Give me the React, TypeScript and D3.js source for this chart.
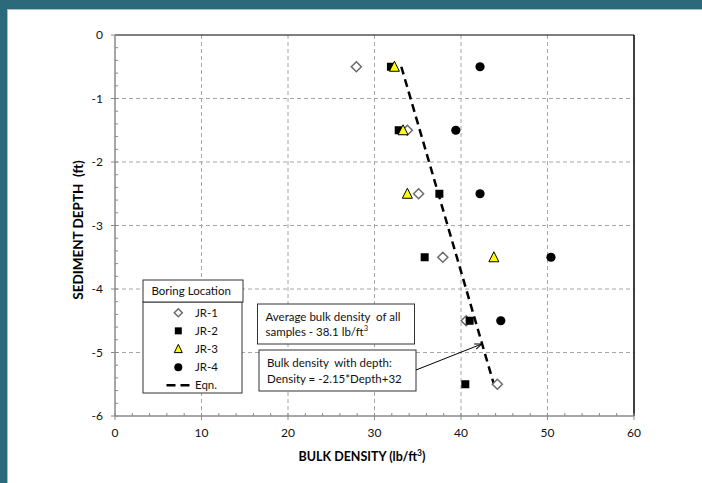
import React from "react";
import * as d3 from "d3";

const depths = [-0.5, -1.5, -2.5, -3.5, -4.5, -5.5];
const jr1 = [27.9, 33.8, 35.1, 37.9, 40.6, 44.2];
const jr2 = [31.9, 32.8, 37.5, 35.8, 41.0, 40.5];
const jr3Depths = [-0.5, -1.5, -2.5, -3.5];
const jr3 = [32.3, 33.3, 33.8, 43.8];
const jr4Depths = [-0.5, -1.5, -2.5, -3.5, -4.5];
const jr4 = [42.2, 39.4, 42.2, 50.4, 44.6];
const eqnDepths = [-0.5, -5.5];
const eqnDensity = [33.1, 43.8];
const xTicks = [0, 10, 20, 30, 40, 50, 60];
const yTicks = [0, -1, -2, -3, -4, -5, -6];
const legendLabels = ["JR-1", "JR-2", "JR-3", "JR-4", "Eqn."];

const W = 702;
const H = 483;
const FONT = "Lato, 'Open Sans', sans-serif";

const x = d3.scaleLinear().domain([0, 60]).range([115, 634]);
const y = d3.scaleLinear().domain([-6, 0]).range([416, 35]);

function Diamond({ cx, cy, r = 5 }: { cx: number; cy: number; r?: number }) {
  return (
    <path
      d={`M${cx},${cy - r}L${cx + r},${cy}L${cx},${cy + r}L${cx - r},${cy}Z`}
      fill="#fff"
      stroke="#6b6b6b"
      strokeWidth={1.5}
    />
  );
}
function Square({ cx, cy, s = 8 }: { cx: number; cy: number; s?: number }) {
  return <rect x={cx - s / 2} y={cy - s / 2} width={s} height={s} fill="#000" />;
}
function Tri({ cx, cy, s = 10 }: { cx: number; cy: number; s?: number }) {
  const h = s * 0.9;
  return (
    <path
      d={`M${cx},${cy - h / 2 - 1}L${cx + s / 2},${cy + h / 2}L${cx - s / 2},${cy + h / 2}Z`}
      fill="#ffff00"
      stroke="#000"
      strokeWidth={1}
      strokeLinejoin="miter"
    />
  );
}
function Dot({ cx, cy, r = 4.6 }: { cx: number; cy: number; r?: number }) {
  return <circle cx={cx} cy={cy} r={r} fill="#000" />;
}

export default function App() {
  const xMinor = d3.range(0, 60.001, 2);
  const yMinor = d3.range(-6, 0.001, 0.2);
  const eqnLine = d3
    .line<number>()
    .x((_, i) => x(eqnDensity[i]))
    .y((d) => y(d));

  return (
    <svg
      width={W}
      height={H}
      style={{ position: "absolute", left: 0, top: 0, fontFamily: FONT }}
    >
      <defs>
        <marker
          id="arrow"
          viewBox="0 0 10 10"
          refX={9}
          refY={5}
          markerWidth={7}
          markerHeight={7}
          orient="auto"
        >
          <path d="M0,1L10,5L0,9" fill="none" stroke="#000" strokeWidth={1.5} />
        </marker>
      </defs>
      <rect x={0} y={0} width={W} height={H} fill="#fff" />
      <rect x={0} y={0} width={W} height={9} fill="#2c6a7b" />
      <rect x={0} y={0} width={7} height={H} fill="#2c6a7b" />
      <line x1={7} x2={W} y1={9.5} y2={9.5} stroke="#b8b8b8" strokeWidth={1} />
      <line x1={7.5} x2={7.5} y1={9} y2={H} stroke="#b8b8b8" strokeWidth={1} />

      {/* gridlines */}
      {xTicks.slice(1, -1).map((t) => (
        <line
          key={"gx" + t}
          x1={x(t)}
          x2={x(t)}
          y1={y(0)}
          y2={y(-6)}
          stroke="#a6a6a6"
          strokeWidth={1}
          strokeDasharray="4,3"
        />
      ))}
      {yTicks.slice(1, -1).map((t) => (
        <line
          key={"gy" + t}
          x1={x(0)}
          x2={x(60)}
          y1={y(t)}
          y2={y(t)}
          stroke="#a6a6a6"
          strokeWidth={1}
          strokeDasharray="4,3"
        />
      ))}

      {/* plot border top/right */}
      <line x1={x(0)} x2={x(60)} y1={y(0)} y2={y(0)} stroke="#000" strokeWidth={1.2} />
      <line x1={x(60)} x2={x(60)} y1={y(0)} y2={y(-6)} stroke="#000" strokeWidth={1.5} />

      {/* axes */}
      <line x1={x(0)} x2={x(0)} y1={y(0)} y2={y(-6)} stroke="#8a8a8a" strokeWidth={1.5} />
      <line x1={x(0)} x2={x(60)} y1={y(-6)} y2={y(-6)} stroke="#8a8a8a" strokeWidth={1.5} />
      {xMinor.map((t) => (
        <line
          key={"xm" + t}
          x1={x(t)}
          x2={x(t)}
          y1={y(-6)}
          y2={y(-6) - 3}
          stroke="#8a8a8a"
          strokeWidth={1}
        />
      ))}
      {yMinor.map((t, i) => (
        <line
          key={"ym" + i}
          x1={x(0)}
          x2={x(0) + 3}
          y1={y(t)}
          y2={y(t)}
          stroke="#8a8a8a"
          strokeWidth={1}
        />
      ))}
      {xTicks.map((t) => (
        <line
          key={"xt" + t}
          x1={x(t)}
          x2={x(t)}
          y1={y(-6)}
          y2={y(-6) + 4}
          stroke="#8a8a8a"
          strokeWidth={1}
        />
      ))}
      {yTicks.map((t) => (
        <line
          key={"yt" + t}
          x1={x(0) - 4}
          x2={x(0)}
          y1={y(t)}
          y2={y(t)}
          stroke="#8a8a8a"
          strokeWidth={1}
        />
      ))}
      {xTicks.map((t) => (
        <text
          key={"xl" + t}
          x={x(t)}
          y={437}
          textAnchor="middle"
          fontSize={12}
          fill="#111"
        >
          {t}
        </text>
      ))}
      {yTicks.map((t) => (
        <text
          key={"yl" + t}
          x={103}
          y={y(t) + 4}
          textAnchor="end"
          fontSize={12}
          fill="#111"
        >
          {t}
        </text>
      ))}

      {/* axis titles */}
      <text
        x={362}
        y={461}
        textAnchor="middle"
        fontSize={12.5}
        fontWeight="bold"
        fill="#000"
      >
        BULK DENSITY (lb/ft
        <tspan fontSize={8.5} dy={-5}>
          3
        </tspan>
        <tspan dy={5}>)</tspan>
      </text>
      <text
        transform={`translate(83,230) rotate(-90)`}
        textAnchor="middle"
        fontSize={13.5}
        fontWeight="bold"
        fill="#000"
        style={{ whiteSpace: "pre" }}
      >
        {"SEDIMENT DEPTH  (ft)"}
      </text>

      {/* equation line */}
      <path
        d={eqnLine(eqnDepths) || ""}
        fill="none"
        stroke="#000"
        strokeWidth={2.5}
        strokeDasharray="8,5"
      />

      {/* data */}
      {jr1.map((v, i) => (
        <Diamond key={"a" + i} cx={x(v)} cy={y(depths[i])} />
      ))}
      {jr2.map((v, i) => (
        <Square key={"b" + i} cx={x(v)} cy={y(depths[i])} />
      ))}
      {jr3.map((v, i) => (
        <Tri key={"c" + i} cx={x(v)} cy={y(jr3Depths[i])} />
      ))}
      {jr4.map((v, i) => (
        <Dot key={"d" + i} cx={x(v)} cy={y(jr4Depths[i])} />
      ))}

      {/* legend */}
      <rect x={143} y={302} width={99} height={91} fill="#fff" stroke="#333" strokeWidth={1} />
      <rect x={143} y={280} width={100} height={22} fill="#fff" stroke="#333" strokeWidth={1} />
      <text x={151.5} y={295} fontSize={11.5} fill="#111">
        Boring Location
      </text>
      {legendLabels.map((lab, i) => {
        const cy = 312.7 + i * 18.15;
        const cx = 178.3;
        let sym: React.ReactNode = null;
        if (i === 0) sym = <Diamond cx={cx} cy={cy} r={4} />;
        if (i === 1) sym = <Square cx={cx} cy={cy} s={7} />;
        if (i === 2) sym = <Tri cx={cx} cy={cy} s={8} />;
        if (i === 3) sym = <Dot cx={cx} cy={cy} r={4} />;
        if (i === 4)
          sym = (
            <line
              x1={166.5}
              x2={192}
              y1={cy}
              y2={cy}
              stroke="#000"
              strokeWidth={2.5}
              strokeDasharray="9,5"
            />
          );
        return (
          <g key={lab}>
            {sym}
            <text x={195} y={cy + 4} fontSize={11.5} fill="#111">
              {lab}
            </text>
          </g>
        );
      })}

      {/* annotations */}
      <rect x={257.5} y={304} width={157} height={40} fill="#fff" stroke="#333" strokeWidth={1} />
      <text x={265.5} y={320.5} fontSize={11.5} fill="#111" style={{ whiteSpace: "pre" }}>
        {"Average bulk density  of all"}
      </text>
      <text x={265.5} y={336} fontSize={11.5} fill="#111">
        samples - 38.1 lb/ft
        <tspan fontSize={7.5} dy={-5}>
          3
        </tspan>
      </text>
      <rect x={259} y={350} width={157} height={41} fill="#fff" stroke="#333" strokeWidth={1} />
      <text x={267} y={367} fontSize={11.5} fill="#111" style={{ whiteSpace: "pre" }}>
        {"Bulk density  with depth:"}
      </text>
      <text x={267} y={383} fontSize={11.5} fill="#111">
        Density = -2.15*Depth+32
      </text>
      <line
        x1={416}
        y1={370}
        x2={481}
        y2={344.3}
        stroke="#000"
        strokeWidth={1}
        markerEnd="url(#arrow)"
      />
    </svg>
  );
}
